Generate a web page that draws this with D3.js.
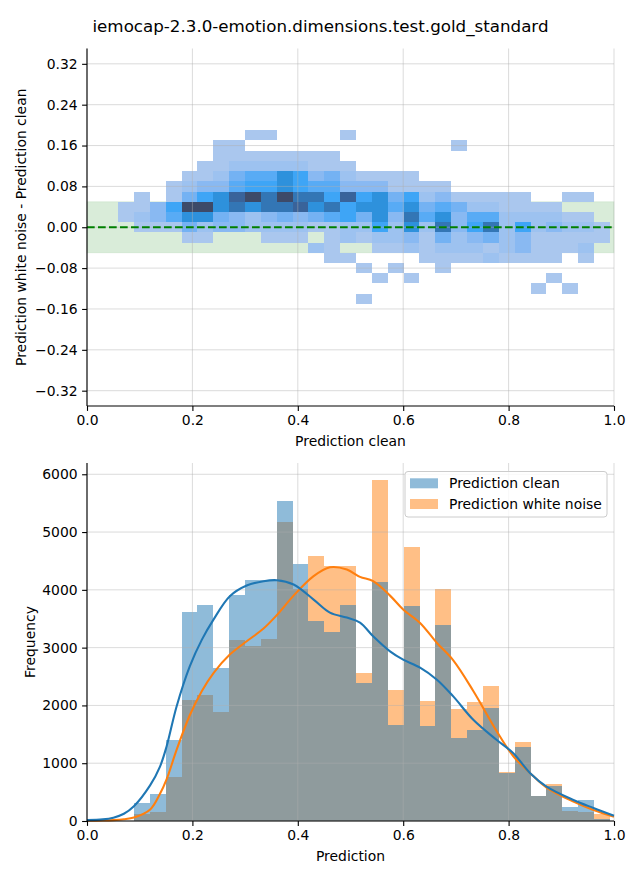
<!DOCTYPE html>
<html><head><meta charset="utf-8">
<script src="https://cdn.jsdelivr.net/npm/d3@7"></script>
<style>body{margin:0;background:#fff} text{font-family:"DejaVu Sans",sans-serif;fill:#000}</style>
</head><body><svg id="c" width="640" height="880"></svg>
<script>
const chartTitle = "iemocap-2.3.0-emotion.dimensions.test.gold_standard";
const xTicks = [0, 0.2, 0.4, 0.6, 0.8, 1.0];
const diffTicks = [-0.32, -0.24, -0.16, -0.08, 0, 0.08, 0.16, 0.24, 0.32];
const freqTicks = [0, 1000, 2000, 3000, 4000, 5000, 6000];
const seriesNames = ["Prediction clean", "Prediction white noise"];

// 2D histogram (x: prediction clean, y: noise - clean)
const heatColStart = 0.059;
const heatColWidth = 0.0301;
const heatRowHeight = 0.02;
const heatRowCenters = [0.18, 0.16, 0.14, 0.12, 0.10, 0.08, 0.06, 0.04, 0.02, 0.00, -0.02, -0.04, -0.06, -0.08, -0.10, -0.12, -0.14];
const heatCounts = [
  [0,0,0,0,0,0,0,0,1,1,0,0,0,0,1,0,0,0,0,0,0,0,0,0,0,0,0,0,0,0,0],
  [0,0,0,0,0,0,1,1,0,0,0,0,0,0,0,0,0,0,0,0,0,1,0,0,0,0,0,0,0,0,0],
  [0,0,0,0,0,0,1,1,1,1,1,1,1,1,0,0,0,0,0,0,0,0,0,0,0,0,0,0,0,0,0],
  [0,0,0,0,0,1,1,2,2,2,2,2,1,1,1,0,0,0,0,0,0,0,0,0,0,0,0,0,0,0,0],
  [0,0,0,0,1,1,2,4,5,5,7,6,3,4,2,1,1,1,1,0,0,0,0,0,0,0,0,0,0,0,0],
  [0,0,0,1,2,3,3,5,6,6,7,6,5,5,3,3,3,1,1,1,1,0,0,0,0,0,0,0,0,0,0],
  [0,1,0,1,4,6,7,9,10,8,10,8,8,6,9,6,7,4,6,2,3,1,1,1,1,1,0,0,1,1,0],
  [1,1,3,6,10,10,7,8,7,8,8,9,7,8,6,7,7,5,7,4,5,4,2,2,1,1,1,1,0,0,0],
  [1,2,3,5,7,7,4,3,2,3,4,3,4,5,6,4,7,3,8,5,7,3,5,5,2,2,2,2,1,1,0],
  [0,1,1,1,4,2,3,3,2,2,2,2,1,1,2,2,6,2,7,2,8,3,6,8,2,6,2,3,2,2,1],
  [0,0,0,0,1,1,0,0,0,1,1,1,0,1,2,1,2,2,3,1,4,2,3,4,2,3,1,1,1,1,1],
  [0,0,0,0,0,0,0,0,0,0,0,0,2,1,0,0,1,1,2,1,2,2,2,1,2,3,1,1,1,2,0],
  [0,0,0,0,0,0,0,0,0,0,0,0,0,1,1,0,0,0,0,1,1,1,1,2,1,1,1,1,0,1,0],
  [0,0,0,0,0,0,0,0,0,0,0,0,0,0,0,1,0,1,0,0,1,0,0,0,0,0,0,0,0,0,0],
  [0,0,0,0,0,0,0,0,0,0,0,0,0,0,0,0,1,0,1,0,0,0,0,0,0,0,0,1,0,0,0],
  [0,0,0,0,0,0,0,0,0,0,0,0,0,0,0,0,0,0,0,0,0,0,0,0,0,0,1,0,1,0,0],
  [0,0,0,0,0,0,0,0,0,0,0,0,0,0,0,1,0,0,0,0,0,0,0,0,0,0,0,0,0,0,0]
];
const toleranceBand = [-0.05, 0.05];

// 1D histograms
const histStart = 0.0892;
const histWidth = 0.0301;
const histClean = [312,468,1404,3624,3745,2653,3919,4179,4179,5531,4439,3468,3277,3745,2393,4144,1665,3728,1647,3399,1439,1578,1959,832,1283,440,607,243,364,35];
const histNoise = [121,156,768,2098,2185,1878,3138,3034,3156,5173,4023,4578,4404,4404,2566,5896,2272,4734,2081,4023,1942,2064,2341,850,1370,430,640,173,150,116];

// KDE curves (scaled to counts)
const kdeX =     [0.0, 0.03, 0.05, 0.07, 0.089, 0.12, 0.1385, 0.151, 0.17, 0.195, 0.218, 0.24, 0.271, 0.303, 0.335, 0.36, 0.392, 0.43, 0.461, 0.493, 0.518, 0.543, 0.575, 0.60, 0.632, 0.664, 0.695, 0.733, 0.777, 0.809, 0.841, 0.872, 0.923, 0.961, 1.0];
const kdeClean = [15, 28, 58, 125, 255, 620, 941, 1289, 1982, 2676, 3139, 3485, 3890, 4075, 4150, 4167, 4092, 3832, 3607, 3520, 3433, 3196, 2936, 2792, 2653, 2445, 2156, 1751, 1405, 1174, 827, 595, 364, 225, 90];
const kdeNoise = [3, 8, 15, 30, 60, 200, 470, 720, 1230, 1830, 2250, 2560, 2880, 3110, 3330, 3560, 3900, 4236, 4390, 4352, 4225, 4150, 3900, 3659, 3428, 3081, 2780, 2250, 1560, 1120, 827, 578, 335, 190, 75];

const svg = d3.select("#c");
const FS = 13.9;
const gridColor = "#b0b0b0";

svg.append("text").attr("x", 320.5).attr("y", 26).attr("text-anchor", "middle")
  .attr("dominant-baseline", "central").style("font-size", "16.7px").text(chartTitle);

function fmtMinus(s) { return s.replace("-", "\u2212"); }

function drawGrid(g, x, y, yTicks, box) {
  g.append("g").selectAll("line").data(xTicks).join("line")
    .attr("x1", d => x(d)).attr("x2", d => x(d)).attr("y1", box.top).attr("y2", box.bottom)
    .attr("stroke", gridColor).attr("stroke-opacity", 0.45).attr("stroke-width", 1);
  g.append("g").selectAll("line").data(yTicks).join("line")
    .attr("x1", box.left).attr("x2", box.right).attr("y1", d => y(d)).attr("y2", d => y(d))
    .attr("stroke", gridColor).attr("stroke-opacity", 0.45).attr("stroke-width", 1);
}

function drawSpines(g, x, y, yTicks, yFmt, xLabel, yLabel, yLabelX, box) {
  const ax = g.append("g").attr("transform", `translate(0,${box.bottom})`)
    .call(d3.axisBottom(x).tickValues(xTicks).tickFormat(d3.format(".1f")).tickSize(4.9).tickPadding(4.5).tickSizeOuter(0));
  const ay = g.append("g").attr("transform", `translate(${box.left},0)`)
    .call(d3.axisLeft(y).tickValues(yTicks).tickFormat(yFmt).tickSize(4.9).tickPadding(4.5).tickSizeOuter(0));
  [ax, ay].forEach(a => {
    a.select(".domain").attr("stroke", "#000").attr("stroke-width", 1.1);
    a.selectAll(".tick line").attr("stroke", "#000").attr("stroke-width", 1.1);
    a.selectAll(".tick text").style("font-size", FS + "px").style("font-family", "DejaVu Sans").attr("fill", "#000");
  });
  ay.select(".domain").attr("d", `M0,${box.top}V${box.bottom}`);
  ax.select(".domain").attr("d", `M${box.left},0H${box.right}`);
  g.append("text").attr("x", (box.left + box.right) / 2).attr("y", box.bottom + 35)
    .attr("text-anchor", "middle").attr("dominant-baseline", "central").style("font-size", FS + "px").text(xLabel);
  g.append("text").attr("transform", `translate(${yLabelX},${(box.top + box.bottom) / 2}) rotate(-90)`)
    .attr("text-anchor", "middle").attr("dominant-baseline", "central").style("font-size", FS + "px").text(yLabel);
}

// ---------- Top panel ----------
const b1 = {left: 87, right: 614, top: 48.5, bottom: 406};
const x1 = d3.scaleLinear().domain([0, 1]).range([b1.left, b1.right]);
const y1 = d3.scaleLinear().domain([-0.35, 0.35]).range([b1.bottom, b1.top]);
const g1 = svg.append("g");

g1.append("rect").attr("x", x1(0)).attr("width", x1(1) - x1(0))
  .attr("y", y1(toleranceBand[1])).attr("height", y1(toleranceBand[0]) - y1(toleranceBand[1]))
  .attr("fill", "green").attr("fill-opacity", 0.15)
  .attr("stroke", "green").attr("stroke-opacity", 0.08).attr("stroke-width", 1);

const heatColor = d3.scaleLinear().domain([1,2,3,4,5,6,7,8,9,10])
  .range(["#aac7ee","#9dc2f0","#89b9f2","#74b2f3","#58abf5","#3ea5f6","#2e91dc","#3376b5","#39639a","#3d4a68"])
  .interpolate(d3.interpolateRgb);

const cells = [];
heatRowCenters.forEach((yc, r) => heatCounts[r].forEach((v, c) => {
  if (v > 0) cells.push({x0: heatColStart + c * heatColWidth, yc, v});
}));
g1.append("g").selectAll("rect").data(cells).join("rect")
  .attr("x", d => x1(d.x0)).attr("width", d => x1(d.x0 + heatColWidth) - x1(d.x0))
  .attr("y", d => y1(d.yc + heatRowHeight / 2)).attr("height", d => y1(d.yc - heatRowHeight / 2) - y1(d.yc + heatRowHeight / 2))
  .attr("fill", d => heatColor(d.v)).attr("shape-rendering", "crispEdges");

drawGrid(g1, x1, y1, diffTicks, b1);

g1.append("line").attr("x1", x1(0)).attr("x2", x1(1)).attr("y1", y1(0)).attr("y2", y1(0))
  .attr("stroke", "green").attr("stroke-width", 2.08).attr("stroke-dasharray", "7.7,3.3");

drawSpines(g1, x1, y1, diffTicks, d => fmtMinus(d3.format(".2f")(d)),
  "Prediction clean", "Prediction white noise - Prediction clean", 21, b1);

// ---------- Bottom panel ----------
const b2 = {left: 87, right: 614, top: 463, bottom: 821};
const x2 = d3.scaleLinear().domain([0, 1]).range([b2.left, b2.right]);
const y2 = d3.scaleLinear().domain([0, 6195]).range([b2.bottom, b2.top]);
const g2 = svg.append("g");

function drawHist(vals, color) {
  g2.append("g").selectAll("rect").data(vals).join("rect")
    .attr("x", (d, i) => x2(histStart + i * histWidth))
    .attr("width", (d, i) => x2(histStart + (i + 1) * histWidth) - x2(histStart + i * histWidth))
    .attr("y", d => y2(d)).attr("height", d => y2(0) - y2(d))
    .attr("fill", color).attr("fill-opacity", 0.5).attr("shape-rendering", "crispEdges");
}
drawHist(histNoise, "#ff7f0e");
drawHist(histClean, "#1f77b4");

drawGrid(g2, x2, y2, freqTicks, b2);

const line = (ys) => d3.line().x((d, i) => x2(kdeX[i])).y(d => y2(d)).curve(d3.curveCatmullRom.alpha(0.5))(ys);
g2.append("path").attr("d", line(kdeNoise)).attr("fill", "none").attr("stroke", "#ff7f0e").attr("stroke-width", 2.08);
g2.append("path").attr("d", line(kdeClean)).attr("fill", "none").attr("stroke", "#1f77b4").attr("stroke-width", 2.08);

drawSpines(g2, x2, y2, freqTicks, d3.format("d"), "Prediction", "Frequency", 30, b2);

const lg = g2.append("g");
lg.append("rect").attr("x", 405).attr("y", 471.5).attr("width", 202).attr("height", 45.5).attr("rx", 3)
  .attr("fill", "#fff").attr("fill-opacity", 0.8).attr("stroke", "#cccccc").attr("stroke-width", 1);
const legColors = ["#1f77b4", "#ff7f0e"];
seriesNames.forEach((name, i) => {
  const cy = 483.3 + i * 20.7;
  lg.append("rect").attr("x", 410).attr("y", cy - 5).attr("width", 28).attr("height", 10)
    .attr("fill", legColors[i]).attr("fill-opacity", 0.5);
  lg.append("text").attr("x", 449).attr("y", cy).attr("dominant-baseline", "central")
    .style("font-size", FS + "px").text(name);
});
</script></body></html>
